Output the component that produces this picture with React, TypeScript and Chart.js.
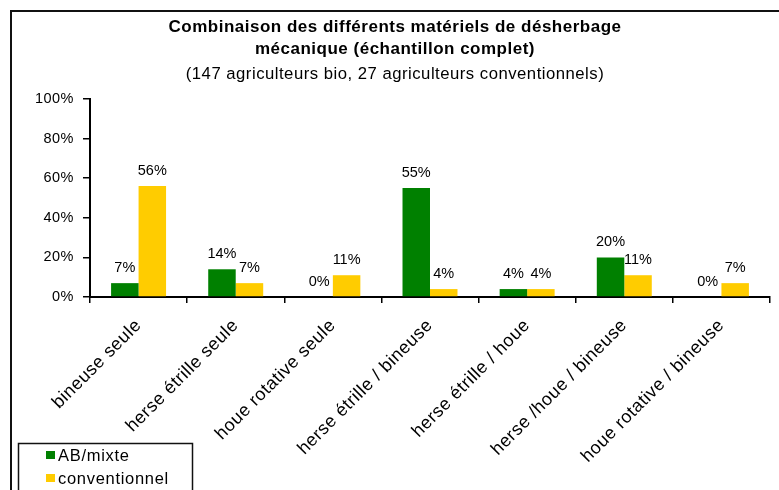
import React, { useEffect, useRef } from 'react';
import { Chart, registerables } from 'chart.js';

Chart.register(...registerables);

const FONT = '"Liberation Sans", Arial, Helvetica, sans-serif';

const titleLines = ['Combinaison des différents matériels de désherbage', 'mécanique (échantillon complet)'];
const subtitleText = '(147 agriculteurs bio, 27 agriculteurs conventionnels)';

const categories = [
  'bineuse seule',
  'herse étrille seule',
  'houe rotative seule',
  'herse étrille / bineuse',
  'herse étrille / houe',
  'herse /houe / bineuse',
  'houe rotative / bineuse',
];
const seriesNames = ['AB/mixte', 'conventionnel'];
const abMixte = [7, 14, 0, 55, 4, 20, 0];
const conventionnel = [56, 7, 11, 4, 4, 11, 7];
const seriesColors = ['#008000', '#FFCC00'];
const yMin = 0;
const yMax = 100;
const yStep = 20;

const spacingPlugin = {
  id: 'spacing',
  beforeLayout(chart: any) {
    chart.ctx.letterSpacing = '0.5px';
  },
  beforeDraw(chart: any) {
    chart.ctx.letterSpacing = '0.5px';
  },
};

const framePlugin = {
  id: 'frame',
  afterDraw(chart: any) {
    const ctx = chart.ctx;
    ctx.save();
    ctx.strokeStyle = '#111';
    ctx.lineWidth = 2;
    ctx.strokeRect(11, 11, 820, 520);
    ctx.restore();
  },
};

const dataLabelPlugin = {
  id: 'dataLabels',
  afterDatasetsDraw(chart: any) {
    const ctx = chart.ctx;
    ctx.save();
    ctx.letterSpacing = '0px';
    ctx.font = `14.5px ${FONT}`;
    ctx.fillStyle = '#000';
    ctx.textAlign = 'center';
    ctx.textBaseline = 'middle';
    chart.data.datasets.forEach((ds: any, i: number) => {
      const meta = chart.getDatasetMeta(i);
      meta.data.forEach((el: any, j: number) => {
        ctx.fillText(`${ds.data[j]}%`, el.x, el.y - 15);
      });
    });
    ctx.restore();
  },
};

const customLegendPlugin = {
  id: 'customLegend',
  afterDraw(chart: any) {
    const ctx = chart.ctx;
    ctx.save();
    ctx.strokeStyle = '#111';
    ctx.lineWidth = 1.5;
    ctx.strokeRect(18.5, 443.5, 174, 70);
    ctx.letterSpacing = '0.7px';
    ctx.font = `16.5px ${FONT}`;
    ctx.textAlign = 'left';
    ctx.textBaseline = 'middle';
    chart.data.datasets.forEach((ds: any, i: number) => {
      const cy = 455 + i * 23;
      ctx.fillStyle = ds.backgroundColor;
      ctx.fillRect(46, cy - 4, 9, 8);
      ctx.fillStyle = '#000';
      ctx.fillText(ds.label, 58, cy + 1);
    });
    ctx.restore();
  },
};

export default function App() {
  const canvasRef = useRef<HTMLCanvasElement | null>(null);

  useEffect(() => {
    if (!canvasRef.current) return;
    const chart = new Chart(canvasRef.current, {
      type: 'bar',
      data: {
        labels: categories,
        datasets: [
          {
            label: seriesNames[0],
            data: abMixte,
            backgroundColor: seriesColors[0],
            categoryPercentage: 0.566,
            barPercentage: 1,
          },
          {
            label: seriesNames[1],
            data: conventionnel,
            backgroundColor: seriesColors[1],
            categoryPercentage: 0.566,
            barPercentage: 1,
          },
        ],
      },
      options: {
        animation: false,
        responsive: false,
        devicePixelRatio: 1,
        layout: { padding: { left: 20, right: 9, top: 0, bottom: 0 } },
        plugins: {
          legend: { display: false },
          tooltip: { enabled: false },
          title: {
            display: true,
            text: titleLines,
            color: '#000',
            font: { family: FONT, size: 17, weight: 'bold', lineHeight: 22 / 17 },
            padding: { top: 16, bottom: 2 },
          },
          subtitle: {
            display: true,
            text: subtitleText,
            color: '#000',
            font: { family: FONT, size: 16.7, weight: 'normal', lineHeight: 22 / 16.7 },
            padding: { top: 1, bottom: 14 },
          },
        },
        scales: {
          x: {
            grid: {
              display: true,
              drawOnChartArea: false,
              drawTicks: true,
              tickLength: 6,
              color: '#000',
              lineWidth: 1.5,
              offset: true,
            },
            border: { display: true, color: '#000', width: 2 },
            ticks: {
              autoSkip: false,
              minRotation: 45,
              maxRotation: 45,
              color: '#000',
              padding: 12,
              font: { family: FONT, size: 18 },
            },
            afterFit(scale: any) {
              scale.height = 193;
              scale.paddingLeft = 0;
              scale.paddingRight = 0;
            },
          },
          y: {
            min: yMin,
            max: yMax,
            grid: {
              display: true,
              drawOnChartArea: false,
              drawTicks: true,
              tickLength: 7,
              color: '#000',
              lineWidth: 1.5,
            },
            border: { display: true, color: '#000', width: 2 },
            ticks: {
              stepSize: yStep,
              color: '#000',
              padding: 9,
              font: { family: FONT, size: 14.5 },
              callback: (v: any) => `${v}%`,
            },
            afterFit(scale: any) {
              scale.width = 70;
            },
          },
        },
      },
      plugins: [spacingPlugin, dataLabelPlugin, customLegendPlugin, framePlugin],
    });
    return () => chart.destroy();
  }, []);

  return (
    <div style={{ position: 'absolute', left: 0, top: 0, width: 779, height: 490, background: '#fff' }}>
      <canvas ref={canvasRef} width={779} height={490} style={{ width: 779, height: 490, display: 'block' }} />
    </div>
  );
}
